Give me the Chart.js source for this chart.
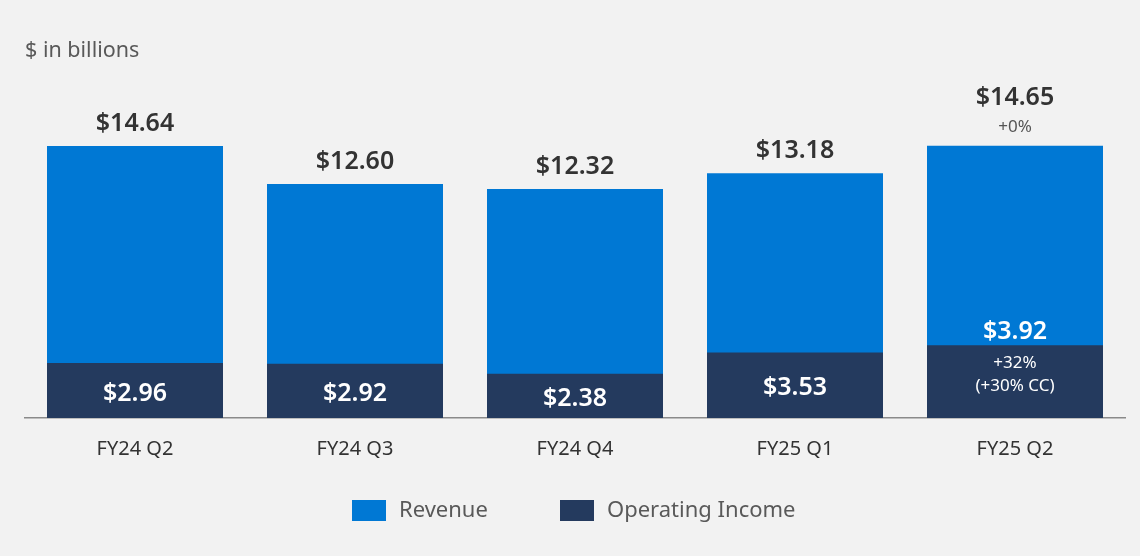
<!DOCTYPE html>
<html>
<head>
<meta charset="utf-8">
<script src="https://cdn.jsdelivr.net/npm/chart.js@4/dist/chart.umd.min.js"></script>
<style>
  html, body { margin: 0; padding: 0; background: #f2f2f2; }
  #wrap { position: relative; width: 1140px; height: 556px; }
</style>
</head>
<body>
<div id="wrap"><canvas id="c" width="1140" height="556"></canvas></div>
<script>
const categories = ['FY24 Q2', 'FY24 Q3', 'FY24 Q4', 'FY25 Q1', 'FY25 Q2'];
const revenue = [14.64, 12.60, 12.32, 13.18, 14.65];
const operatingIncome = [2.96, 2.92, 2.38, 3.53, 3.92];
const revenueNotes = ['', '', '', '', '+0%'];
const opIncomeNotes = [[], [], [], [], ['+32%', '(+30% CC)']];
const seriesNames = ['Revenue', 'Operating Income'];
const unitLabel = '$ in billions';

const FONT = '"Segoe UI", "Noto Sans", sans-serif';
const REV_COLOR = '#0078d4';
const OP_COLOR = '#243a5e';

const labelPlugin = {
  id: 'labels',
  afterDatasetsDraw(chart) {
    const ctx = chart.ctx;
    const revMeta = chart.getDatasetMeta(0);
    const opMeta = chart.getDatasetMeta(1);
    ctx.save();
    ctx.textAlign = 'center';
    ctx.textBaseline = 'middle';
    revMeta.data.forEach((bar, i) => {
      const x = bar.x;
      const top = bar.y;
      ctx.fillStyle = '#333333';
      ctx.font = '600 25px ' + FONT;
      if (revenueNotes[i]) {
        ctx.fillText('$' + revenue[i].toFixed(2), x, top - 48);
        ctx.fillStyle = '#555555';
        ctx.font = '17px ' + FONT;
        ctx.fillText(revenueNotes[i], x, top - 19);
      } else {
        ctx.fillText('$' + revenue[i].toFixed(2), x, top - 22);
      }
    });
    opMeta.data.forEach((bar, i) => {
      const x = bar.x;
      const top = bar.y;
      const bottom = bar.base;
      ctx.fillStyle = '#ffffff';
      ctx.font = '600 25px ' + FONT;
      const notes = opIncomeNotes[i];
      if (notes.length) {
        ctx.fillText('$' + operatingIncome[i].toFixed(2), x, top - 13);
        ctx.font = '17px ' + FONT;
        notes.forEach((t, k) => ctx.fillText(t, x, top + 18 + k * 23));
      } else {
        ctx.fillText('$' + operatingIncome[i].toFixed(2), x, (top + bottom) / 2 + 3);
      }
    });
    ctx.restore();
  },
  afterDraw(chart) {
    const ctx = chart.ctx;
    ctx.save();
    ctx.textBaseline = 'middle';
    ctx.textAlign = 'left';
    ctx.fillStyle = '#595959';
    ctx.font = '21.5px ' + FONT;
    ctx.fillText(unitLabel, 25, 51);
    // legend
    const colors = [REV_COLOR, OP_COLOR];
    const boxX = [352, 560];
    ctx.font = '22px ' + FONT;
    seriesNames.forEach((n, i) => {
      ctx.fillStyle = colors[i];
      ctx.fillRect(boxX[i], 500, 34, 21);
      ctx.fillStyle = '#595959';
      ctx.fillText(n, boxX[i] + 47, 511);
    });
    ctx.restore();
  }
};

new Chart(document.getElementById('c'), {
  type: 'bar',
  data: {
    labels: categories,
    datasets: [
      { label: seriesNames[0], data: revenue, backgroundColor: REV_COLOR, order: 2, grouped: false, borderWidth: 0 },
      { label: seriesNames[1], data: operatingIncome, backgroundColor: OP_COLOR, order: 1, grouped: false, borderWidth: 0 }
    ]
  },
  options: {
    responsive: false,
    animation: false,
    devicePixelRatio: 1,
    layout: { padding: { top: 65, left: 25, right: 15, bottom: 98 } },
    datasets: { bar: { barPercentage: 0.8, categoryPercentage: 1.0 } },
    plugins: { legend: { display: false }, tooltip: { enabled: false } },
    scales: {
      x: {
        grid: { display: false, drawTicks: false },
        border: { display: true, color: '#8a8a8a', width: 1.5 },
        ticks: { color: '#333333', font: { family: FONT, size: 20 }, padding: 19 },
        afterFit(scale) { scale.height = 40; }
      },
      y: { display: false, min: 0, max: 19 }
    }
  },
  plugins: [labelPlugin]
});
</script>
</body>
</html>
